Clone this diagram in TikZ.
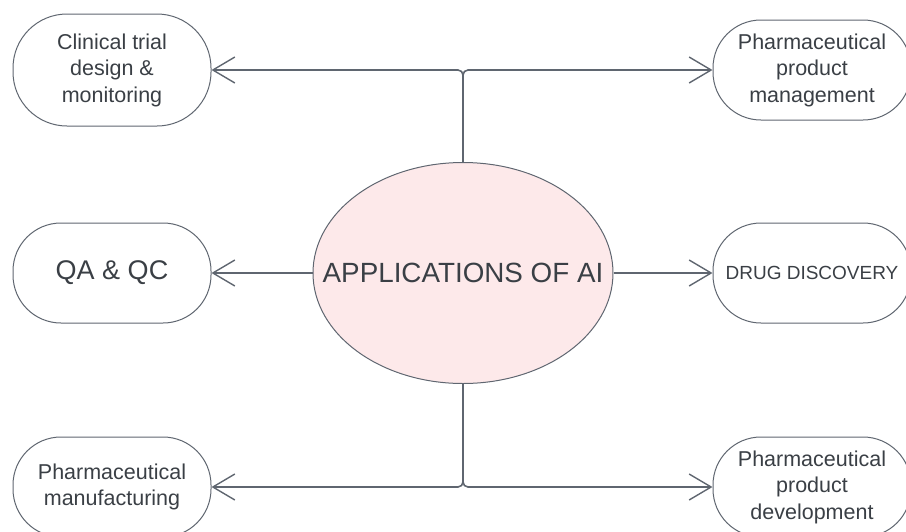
\documentclass[tikz,border=0pt]{standalone}
\usepackage{fontspec}
\setmainfont{Liberation Sans}
\usetikzlibrary{shapes.geometric,arrows.meta}
\definecolor{linegray}{HTML}{5F6670}
\definecolor{textgray}{HTML}{3A3F45}
\definecolor{aipink}{HTML}{FDE9EA}
\tikzset{every node/.style={text=textgray, align=center, inner sep=0pt},
  pill/.style={draw=linegray, line width=1pt, rounded corners=48pt, minimum width=198pt, minimum height=100pt},
  link/.style={draw=linegray, line width=1.6pt, rounded corners=5pt, -{Straight Barb[length=22pt,width=26pt,line width=1.4pt]}}}

\begin{document}
\begin{tikzpicture}[x=1pt,y=-1pt]
  \useasboundingbox (0,0) rectangle (906,531);
  % centre
  \node[ellipse, draw=linegray, line width=1pt, fill=aipink, inner xsep=-60pt, minimum width=300pt, minimum height=221pt,
        font=\fontsize{27.8}{33}\selectfont] (ai) at (463,273) {APPLICATIONS OF AI};
  % left column
  \node[pill, minimum height=112pt, rounded corners=54pt, font=\fontsize{21.5}{26.5}\selectfont] (trial) at (112,70) {Clinical trial\\design \&\\monitoring};
  \node[pill, font=\fontsize{27}{32}\selectfont] (qa) at (112,273) {QA \& QC};
  \node[pill, font=\fontsize{21.5}{26.5}\selectfont] (manuf) at (112,487) {Pharmaceutical\\manufacturing};
  % right column
  \node[pill, font=\fontsize{21.5}{26.5}\selectfont] (mgmt) at (812,70) {Pharmaceutical\\product\\management};
  \node[pill, font=\fontsize{19}{23}\selectfont] (drug) at (812,273) {DRUG DISCOVERY};
  \node[pill, font=\fontsize{21.5}{26.5}\selectfont] (dev) at (812,487) {Pharmaceutical\\product\\development};
  % connectors
  \draw[link] (ai.north) |- (trial.east);
  \draw[link] (ai.north) |- (mgmt.west);
  \draw[link] (ai.west) -- (qa.east);
  \draw[link] (ai.east) -- (drug.west);
  \draw[link] (ai.south) |- (manuf.east);
  \draw[link] (ai.south) |- (dev.west);
\end{tikzpicture}
\end{document}
